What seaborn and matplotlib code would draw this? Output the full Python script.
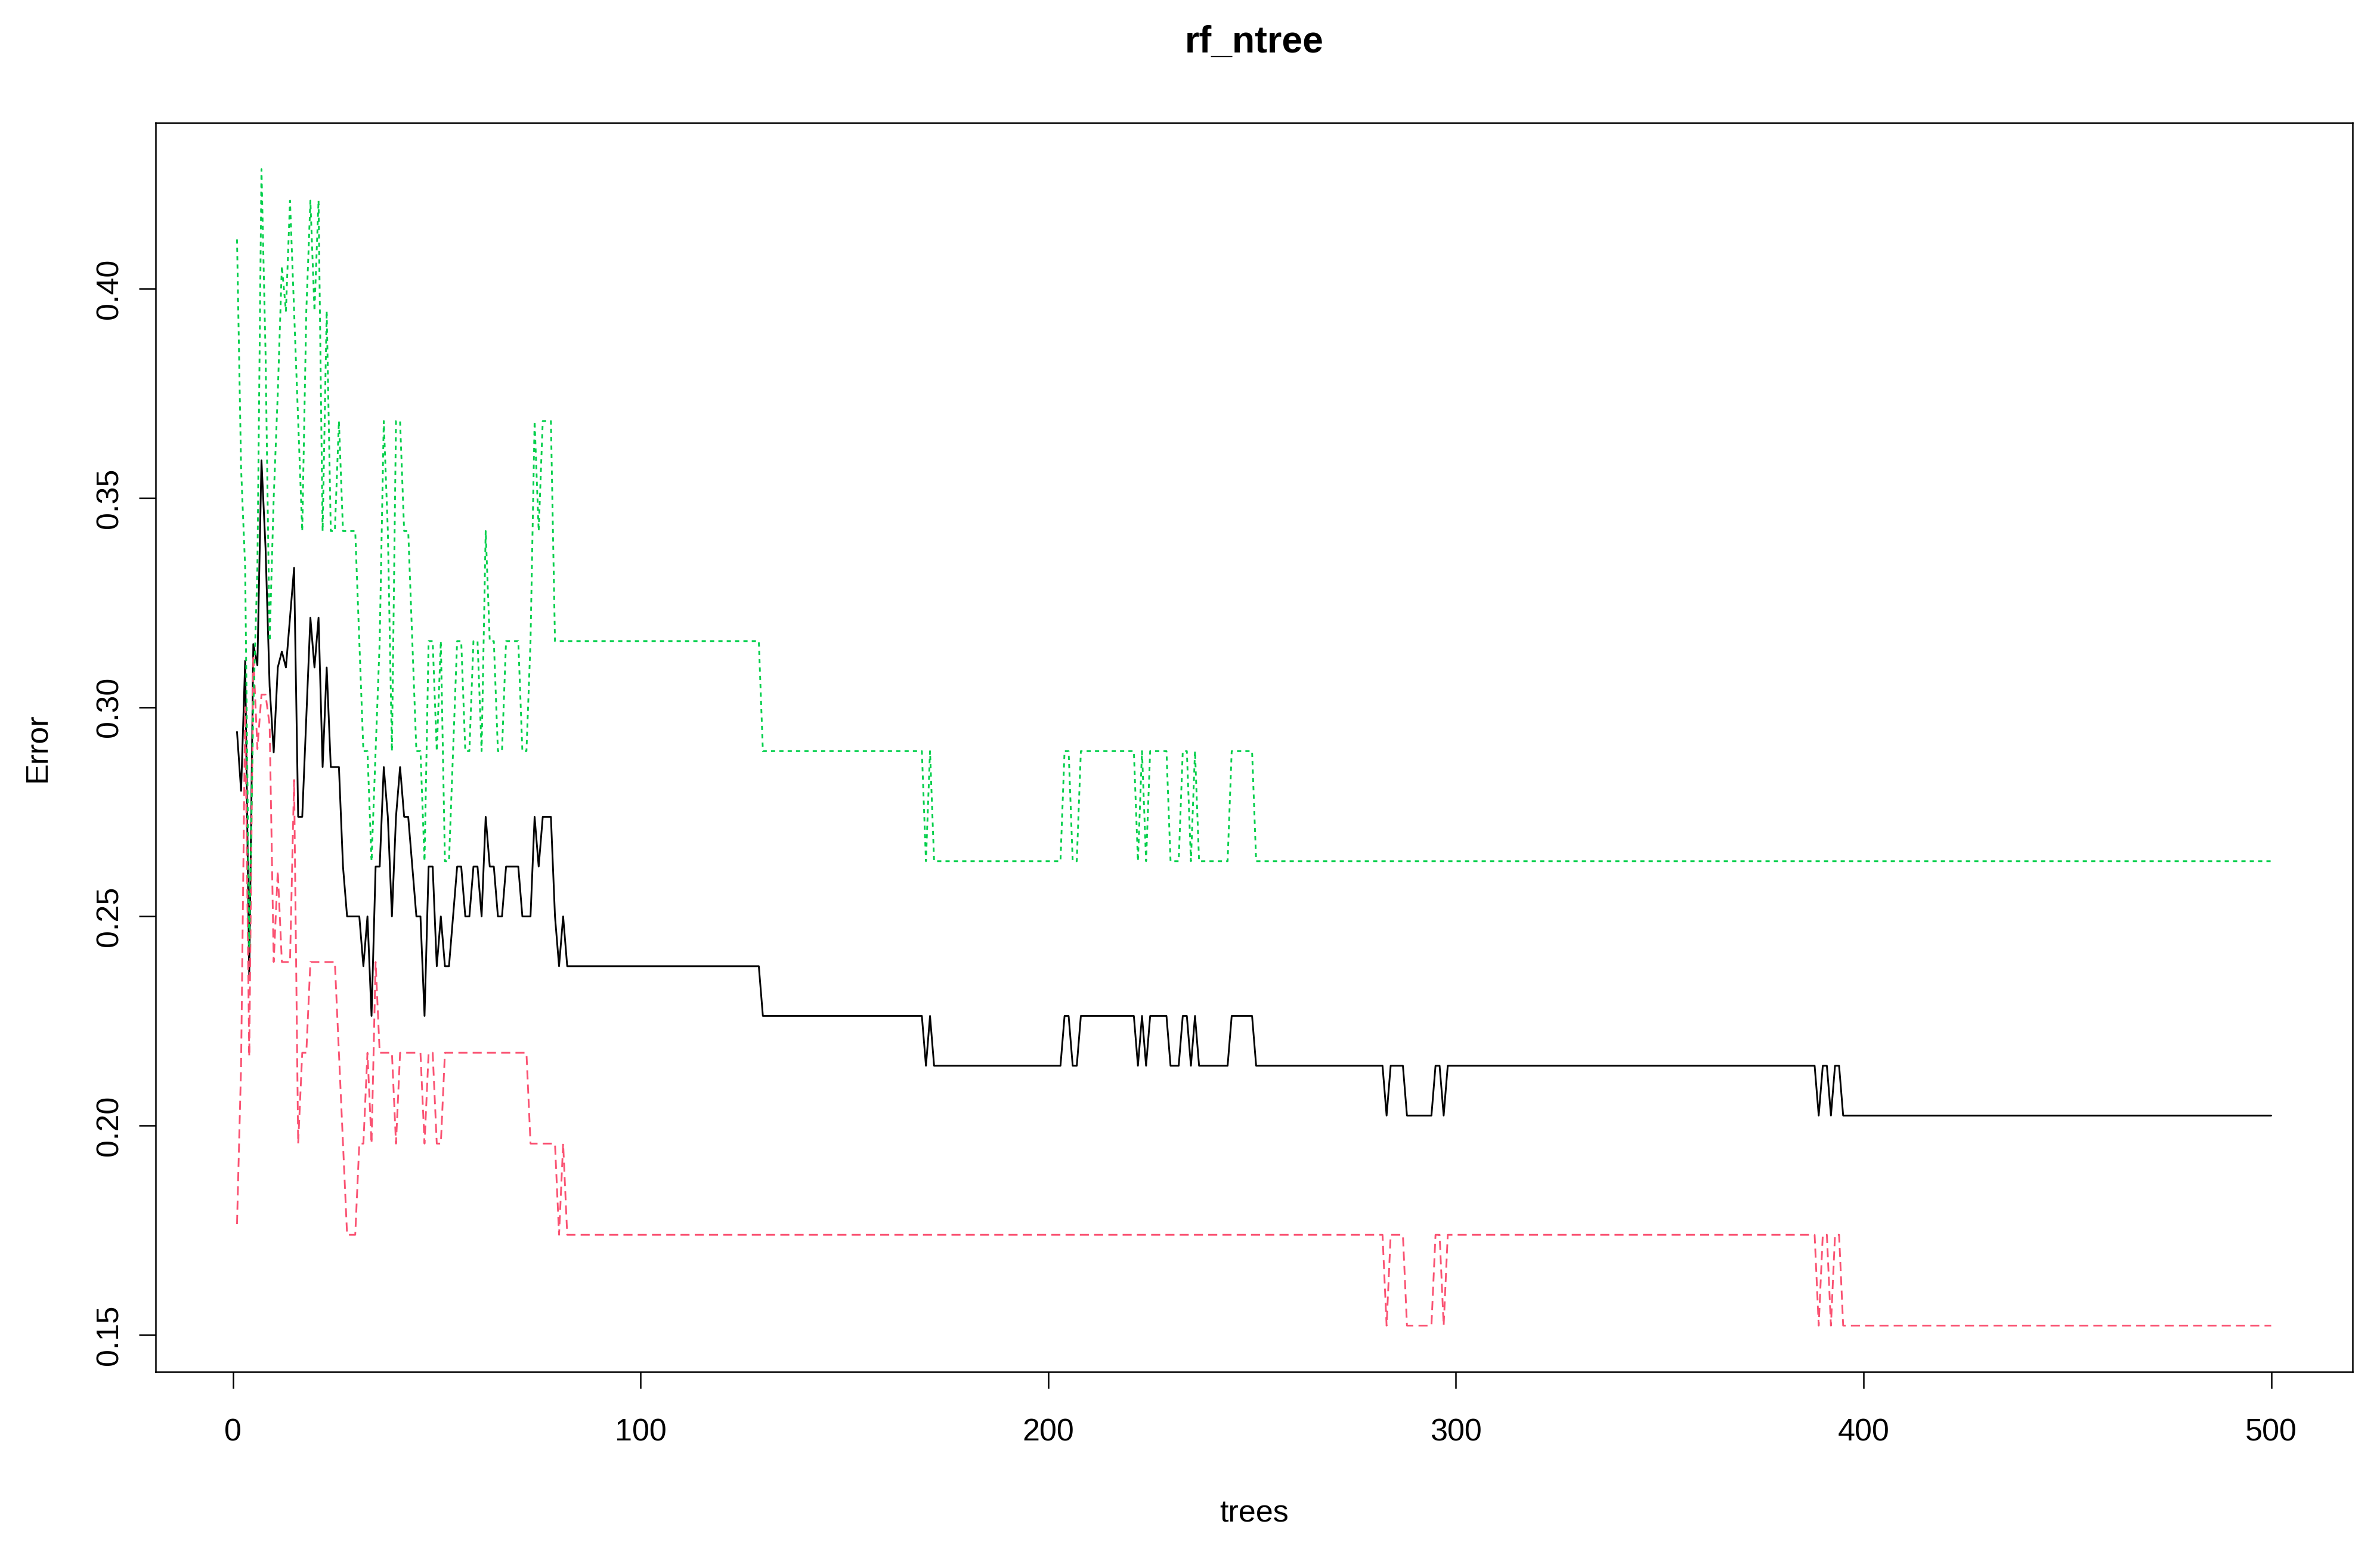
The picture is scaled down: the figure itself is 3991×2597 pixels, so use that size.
import numpy as np
import pandas as pd
import matplotlib
matplotlib.use("Agg")
import matplotlib.pyplot as plt
import seaborn as sns

# per-tree error rates for trees 1-81
oob_early = [
    0.2941, 0.2800, 0.3111, 0.2353, 0.3151, 0.3100, 0.3590, 0.3380, 0.3050, 0.2892,
    0.3095, 0.3133, 0.3095, 0.3214, 0.3333, 0.2738, 0.2738, 0.2976, 0.3214, 0.3095,
    0.3214, 0.2857, 0.3095, 0.2857, 0.2857, 0.2857, 0.2619, 0.2500, 0.2500, 0.2500,
    0.2500, 0.2381, 0.2500, 0.2262, 0.2619, 0.2619, 0.2857, 0.2738, 0.2500, 0.2738,
    0.2857, 0.2738, 0.2738, 0.2619, 0.2500, 0.2500, 0.2262, 0.2619, 0.2619, 0.2381,
    0.2500, 0.2381, 0.2381, 0.2500, 0.2619, 0.2619, 0.2500, 0.2500, 0.2619, 0.2619,
    0.2500, 0.2738, 0.2619, 0.2619, 0.2500, 0.2500, 0.2619, 0.2619, 0.2619, 0.2619,
    0.2500, 0.2500, 0.2500, 0.2738, 0.2619, 0.2738, 0.2738, 0.2738, 0.2500, 0.2381,
    0.2500,
]
class1_early = [
    0.1765, 0.2143, 0.3000, 0.2165, 0.3125, 0.2900, 0.3030, 0.3030, 0.2957, 0.2391,
    0.2609, 0.2391, 0.2391, 0.2391, 0.2826, 0.1957, 0.2174, 0.2174, 0.2391, 0.2391,
    0.2391, 0.2391, 0.2391, 0.2391, 0.2391, 0.2174, 0.1957, 0.1739, 0.1739, 0.1739,
    0.1957, 0.1957, 0.2174, 0.1957, 0.2391, 0.2174, 0.2174, 0.2174, 0.2174, 0.1957,
    0.2174, 0.2174, 0.2174, 0.2174, 0.2174, 0.2174, 0.1957, 0.2174, 0.2174, 0.1957,
    0.1957, 0.2174, 0.2174, 0.2174, 0.2174, 0.2174, 0.2174, 0.2174, 0.2174, 0.2174,
    0.2174, 0.2174, 0.2174, 0.2174, 0.2174, 0.2174, 0.2174, 0.2174, 0.2174, 0.2174,
    0.2174, 0.2174, 0.1957, 0.1957, 0.1957, 0.1957, 0.1957, 0.1957, 0.1957, 0.1739,
    0.1957,
]
class2_early = [
    0.4118, 0.3571, 0.3333, 0.2424, 0.3000, 0.3333, 0.4286, 0.3846, 0.3158, 0.3500,
    0.3750, 0.4054, 0.3947, 0.4211, 0.3947, 0.3684, 0.3421, 0.3947, 0.4211, 0.3947,
    0.4211, 0.3421, 0.3947, 0.3421, 0.3421, 0.3684, 0.3421, 0.3421, 0.3421, 0.3421,
    0.3158, 0.2895, 0.2895, 0.2632, 0.2895, 0.3158, 0.3684, 0.3421, 0.2895, 0.3684,
    0.3684, 0.3421, 0.3421, 0.3158, 0.2895, 0.2895, 0.2632, 0.3158, 0.3158, 0.2895,
    0.3158, 0.2632, 0.2632, 0.2895, 0.3158, 0.3158, 0.2895, 0.2895, 0.3158, 0.3158,
    0.2895, 0.3421, 0.3158, 0.3158, 0.2895, 0.2895, 0.3158, 0.3158, 0.3158, 0.3158,
    0.2895, 0.2895, 0.3158, 0.3684, 0.3421, 0.3684, 0.3684, 0.3684, 0.3158, 0.3158,
    0.3158,
]

# from tree 82 on the curves only move between a few levels: value + run length
oob_step_values = [0.2381, 0.2262, 0.2143, 0.2262, 0.2143, 0.2262, 0.2143, 0.2262, 0.2143, 0.2262,
                   0.2143, 0.2262, 0.2143, 0.2262, 0.2143, 0.2262, 0.2143, 0.2262, 0.2143, 0.2024,
                   0.2143, 0.2024, 0.2143, 0.2024, 0.2143, 0.2024, 0.2143, 0.2024, 0.2143, 0.2024]
oob_step_lengths = [48, 40, 1, 1, 32, 2, 2, 14, 1, 1,
                    1, 5, 3, 2, 1, 1, 8, 6, 32, 1,
                    4, 7, 2, 1, 91, 1, 2, 1, 2, 106]
class1_step_values = [0.1739, 0.1522, 0.1739, 0.1522, 0.1739, 0.1522,
                      0.1739, 0.1522, 0.1739, 0.1522, 0.1739, 0.1522]
class1_step_lengths = [201, 1, 4, 7, 2, 1, 91, 1, 2, 1, 2, 106]
class2_step_values = [0.3158, 0.2895, 0.2632, 0.2895, 0.2632, 0.2895, 0.2632, 0.2895, 0.2632, 0.2895,
                      0.2632, 0.2895, 0.2632, 0.2895, 0.2632, 0.2895, 0.2632, 0.2895, 0.2632]
class2_step_lengths = [48, 40, 1, 1, 32, 2, 2, 14, 1, 1,
                       1, 5, 3, 2, 1, 1, 8, 6, 250]

x_ticks = [0, 100, 200, 300, 400, 500]
y_ticks = [0.15, 0.20, 0.25, 0.30, 0.35, 0.40]
y_tick_labels = ["0.15", "0.20", "0.25", "0.30", "0.35", "0.40"]

oob = np.concatenate([oob_early, np.repeat(oob_step_values, oob_step_lengths)])
class1 = np.concatenate([class1_early, np.repeat(class1_step_values, class1_step_lengths)])
class2 = np.concatenate([class2_early, np.repeat(class2_step_values, class2_step_lengths)])
trees = np.arange(1, len(oob) + 1)

df = pd.DataFrame({"trees": trees, "OOB": oob, "1": class1, "2": class2})

sns.set_style("ticks")
plt.rcParams["font.family"] = ["Liberation Sans", "DejaVu Sans"]
plt.rcParams["text.color"] = "black"
plt.rcParams["axes.labelcolor"] = "black"
plt.rcParams["xtick.color"] = "black"
plt.rcParams["ytick.color"] = "black"

W, H = 3991, 2597
fig = plt.figure(figsize=(W / 300, H / 300), dpi=300)
ax = fig.add_axes([261 / W, 1 - 2300 / H, 3684 / W, 2094 / H])

lw = 0.7
sns.lineplot(data=df, x="trees", y="OOB", color="black", lw=lw,
             estimator=None, ax=ax)
sns.lineplot(data=df, x="trees", y="1", color="#FA5272", lw=lw,
             linestyle=(0, (5.2, 3.0)), estimator=None, ax=ax)
sns.lineplot(data=df, x="trees", y="2", color="#00CF4A", lw=lw,
             linestyle=(0, (2.4, 2.4)), estimator=None, ax=ax)

# R pads each axis range by 4%
xr = trees.max() - trees.min()
ax.set_xlim(trees.min() - 0.04 * xr, trees.max() + 0.04 * xr)
ymin = min(oob.min(), class1.min(), class2.min())
ymax = max(oob.max(), class1.max(), class2.max())
yr = ymax - ymin
ax.set_ylim(ymin - 0.04 * yr, ymax + 0.04 * yr)

ax.set_xticks(x_ticks)
ax.set_xticklabels([str(t) for t in x_ticks])
ax.set_yticks(y_ticks)
ax.set_yticklabels(y_tick_labels, rotation=90, va="center")
ax.tick_params(axis="both", length=6.7, width=0.6, labelsize=12.5,
               color="black", labelcolor="black")
ax.tick_params(axis="x", pad=12)
ax.tick_params(axis="y", pad=6)

for s in ax.spines.values():
    s.set_visible(True)
    s.set_linewidth(0.6)
    s.set_color("black")

ax.set_xlabel("trees", fontsize=12.5, color="black")
ax.xaxis.set_label_coords(0.5, (2300 - 2538) / 2094)
ax.xaxis.label.set_va("center")
ax.set_ylabel("Error", fontsize=12.5, color="black")
ax.yaxis.set_label_coords((63 - 261) / 3684, 0.5)
ax.yaxis.label.set_va("center")

ax.set_title("rf_ntree", fontsize=15, fontweight="bold", color="black",
             y=1 + (206 - 71) / 2094, va="center", pad=0)

fig.savefig("out.png", dpi=300, facecolor="white")
